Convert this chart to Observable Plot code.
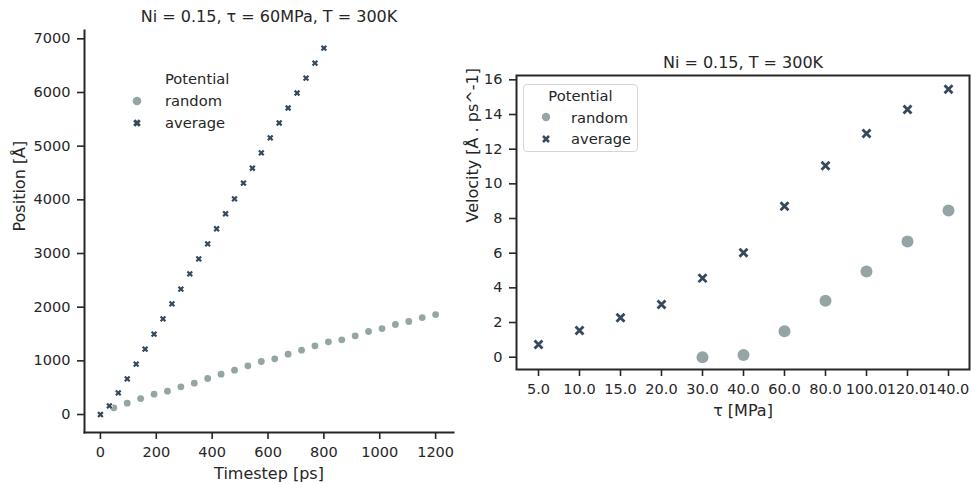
<!DOCTYPE html>
<html>
<head>
<meta charset="utf-8">
<script src="https://cdn.jsdelivr.net/npm/d3@7"></script>
<script src="https://cdn.jsdelivr.net/npm/@observablehq/plot@0.6"></script>
<style>
  body { margin: 0; background: #fff; }
  #wrap { position: relative; width: 971px; height: 484px; font-family: "DejaVu Sans", sans-serif; color: #262626; overflow: hidden; }
  #left, #right { position: absolute; top: 0; }
  #left { left: 0; }
  #right { left: 460px; }
  .leg { position: absolute; font-size: 14.7px; line-height: 1; white-space: nowrap; }
  .legbox { position: absolute; border: 1px solid #d6d6d6; border-radius: 4px; background: rgba(255,255,255,0.8); }
  svg.mk { position: absolute; overflow: visible; }
</style>
</head>
<body>
<div id="wrap">
  <div id="left"></div>
  <div id="right"></div>
</div>
<script>
// ---------- data ----------
const potentials = ["random", "average"];
const colors = ["#95a5a6", "#34495e"];

// left panel: position vs timestep (Ni = 0.15, tau = 60 MPa, T = 300 K)
const timeRandom = [48, 96, 144, 192, 240, 288, 336, 384, 432, 480, 528, 576, 624, 672, 720, 768, 816, 864, 912, 960, 1008, 1056, 1104, 1152, 1200];
const posRandom = [124, 211, 298, 379, 435, 516, 584, 671, 752, 826, 907, 988, 1037, 1124, 1199, 1280, 1354, 1391, 1466, 1547, 1602, 1677, 1733, 1807, 1863];
const timeAverage = [0, 32, 64, 96, 128, 160, 192, 224, 256, 288, 320, 352, 384, 416, 448, 480, 512, 544, 576, 608, 640, 672, 704, 736, 768, 800];
const posAverage = [0, 161, 404, 665, 938, 1217, 1497, 1783, 2062, 2335, 2621, 2901, 3180, 3461, 3740, 4019, 4310, 4589, 4874, 5153, 5432, 5711, 5990, 6269, 6548, 6827];
const leftXTicks = [0, 200, 400, 600, 800, 1000, 1200];
const leftYTicks = [0, 1000, 2000, 3000, 4000, 5000, 6000, 7000];

// right panel: velocity vs tau (Ni = 0.15, T = 300 K)
const tauLabels = ["5.0", "10.0", "15.0", "20.0", "30.0", "40.0", "60.0", "80.0", "100.0", "120.0", "140.0"];
const velRandom = [null, null, null, null, 0.0, 0.13, 1.5, 3.25, 4.94, 6.67, 8.46];
const velAverage = [0.73, 1.54, 2.27, 3.04, 4.56, 6.02, 8.71, 11.04, 12.9, 14.29, 15.46];
const rightYTicks = [0, 2, 4, 6, 8, 10, 12, 14, 16];

const leftTitle = "Ni = 0.15, τ = 60MPa, T = 300K";
const rightTitle = "Ni = 0.15, T = 300K";
const leftXLabel = "Timestep [ps]";
const leftYLabel = "Position [Å]";
const rightXLabel = "τ [MPa]";
const rightYLabel = "Velocity [Å . ps^-1]";
const legendTitle = "Potential";

const baseStyle = { fontFamily: "DejaVu Sans, sans-serif", fontSize: "14.5px", color: "#262626", background: "#fff", overflow: "visible" };
const axisOpts = { tickSize: 7, tickPadding: 7, strokeWidth: 1.6, label: null };

// ---------- left plot ----------
const left = Plot.plot({
  width: 460, height: 484,
  marginLeft: 84, marginRight: 7, marginTop: 30, marginBottom: 52,
  style: baseStyle,
  x: { domain: [-57, 1264] },
  y: { domain: [-335, 7155] },
  marks: [
    Plot.axisX({ ...axisOpts, ticks: leftXTicks, tickFormat: "d" }),
    Plot.axisY({ ...axisOpts, ticks: leftYTicks, tickFormat: "d" }),
    Plot.frame({ anchor: "left", strokeWidth: 2 }),
    Plot.frame({ anchor: "bottom", strokeWidth: 2 }),
    Plot.dot(posRandom, { x: timeRandom, y: posRandom, r: 3.4, fill: colors[0], stroke: null }),
    Plot.dot(posAverage, { x: timeAverage, y: posAverage, symbol: "times", r: 2.3, stroke: "#fff", strokeWidth: 3.8 }),
    Plot.dot(posAverage, { x: timeAverage, y: posAverage, symbol: "times", r: 2.3, stroke: colors[1], strokeWidth: 2.2 }),
    Plot.text([leftTitle], { text: d => d, frameAnchor: "top", dy: -9, lineAnchor: "bottom", fontSize: 16 }),
    Plot.text([leftXLabel], { text: d => d, frameAnchor: "bottom", dy: 46, lineAnchor: "bottom", fontSize: 16 }),
    Plot.text([leftYLabel], { text: d => d, frameAnchor: "left", dx: -60, rotate: -90, lineAnchor: "bottom", fontSize: 16 })
  ]
});
document.getElementById("left").appendChild(left);

// ---------- right plot ----------
const right = Plot.plot({
  width: 511, height: 484,
  marginLeft: 56, marginRight: 2, marginTop: 75, marginBottom: 115,
  style: baseStyle,
  x: { type: "point", domain: tauLabels, padding: 0.5 },
  y: { domain: [-0.71, 16.25] },
  marks: [
    Plot.axisX({ ...axisOpts }),
    Plot.axisY({ ...axisOpts, ticks: rightYTicks, tickFormat: "d" }),
    Plot.frame({ strokeWidth: 2 }),
    Plot.dot(velRandom, { x: tauLabels, y: velRandom, r: 6, fill: colors[0], stroke: null }),
    Plot.dot(velAverage, { x: tauLabels, y: velAverage, symbol: "times", r: 3.7, stroke: colors[1], strokeWidth: 2.8 }),
    Plot.text([rightTitle], { text: d => d, frameAnchor: "top", dy: -8, lineAnchor: "bottom", fontSize: 16 }),
    Plot.text([rightXLabel], { text: d => d, frameAnchor: "bottom", dy: 46, lineAnchor: "bottom", fontSize: 16 }),
    Plot.text([rightYLabel], { text: d => d, frameAnchor: "left", dx: -39, rotate: -90, lineAnchor: "bottom", fontSize: 16 })
  ]
});
document.getElementById("right").appendChild(right);

// ---------- legends (HTML) ----------
const wrap = document.getElementById("wrap");
function addText(txt, x, baseline, anchor, size) {
  const d = document.createElement("div");
  d.className = "leg";
  d.textContent = txt;
  if (size) d.style.fontSize = size + "px";
  const fs = size || 14.7;
  d.style.top = (baseline - fs * 0.76) + "px";
  d.style.left = x + "px";
  if (anchor === "middle") d.style.transform = "translateX(-50%)";
  wrap.appendChild(d);
}
function addMarker(kind, cx, cy, size, color, sw) {
  const s = document.createElementNS("http://www.w3.org/2000/svg", "svg");
  s.setAttribute("class", "mk");
  s.setAttribute("width", 20); s.setAttribute("height", 20);
  s.style.left = (cx - 10) + "px"; s.style.top = (cy - 10) + "px";
  let inner = "";
  if (kind === "circle") inner = `<circle cx="10" cy="10" r="${size}" fill="${color}"/>`;
  else {
    const h = size;
    const p = `M${10 - h},${10 - h}L${10 + h},${10 + h}M${10 - h},${10 + h}L${10 + h},${10 - h}`;
    inner += `<path d="${p}" stroke="${color}" stroke-width="${sw}" fill="none"/>`;
  }
  s.innerHTML = inner;
  wrap.appendChild(s);
}

// left legend (no frame, title as left-aligned entry)
addText(legendTitle, 165, 83.5);
addMarker("circle", 137.3, 100.7, 4.3, colors[0]);
addText(potentials[0], 165, 105.5);
addMarker("x", 137.3, 122.7, 2.8, colors[1], 3.0);
addText(potentials[1], 165, 127.5);

// right legend (framed)
const box = document.createElement("div");
box.className = "legbox";
box.style.left = "523px"; box.style.top = "84px";
box.style.width = "113px"; box.style.height = "66px";
wrap.appendChild(box);
addText(legendTitle, 580.5, 100, "middle");
addMarker("circle", 546, 117.3, 4.2, colors[0]);
addText(potentials[0], 571, 121.7);
addMarker("x", 546, 139, 3.0, colors[1], 2.5);
addText(potentials[1], 571, 143.5);
</script>
</body>
</html>
